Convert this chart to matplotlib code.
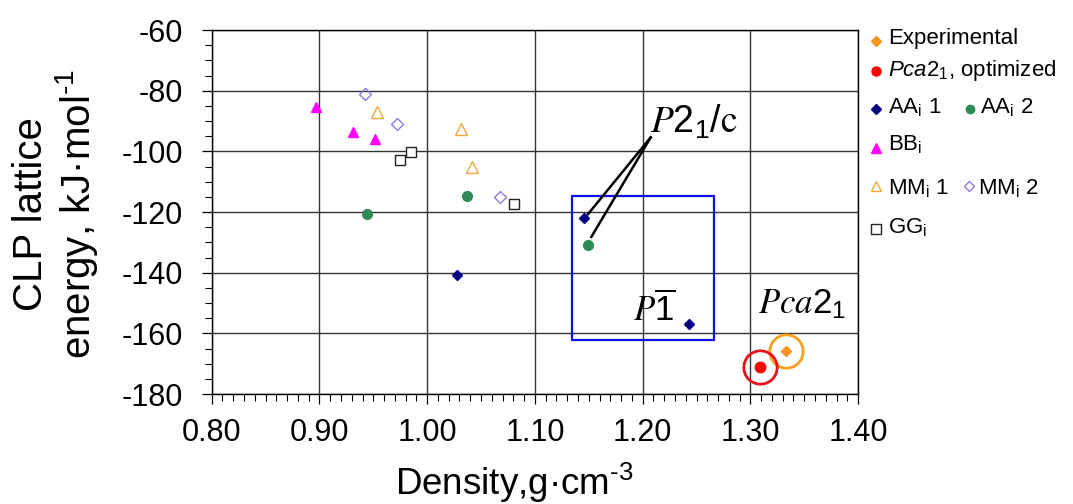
import numpy as np
import matplotlib
matplotlib.use("Agg")
import matplotlib.pyplot as plt
from matplotlib.lines import Line2D
from matplotlib.patches import Rectangle

plt.rcParams['font.family'] = ['Liberation Sans', 'DejaVu Sans']
plt.rcParams['mathtext.fontset'] = 'custom'
plt.rcParams['mathtext.rm'] = 'Liberation Sans'
plt.rcParams['mathtext.it'] = 'Liberation Sans:italic'
plt.rcParams['mathtext.default'] = 'regular'

# ---------------- data ----------------
exp_x = [1.333]
exp_y = [-165.9]
pca_x = [1.309]
pca_y = [-171.0]
aa1_x = [1.028, 1.146, 1.243]
aa1_y = [-140.9, -122.1, -156.9]
aa2_x = [0.944, 1.037, 1.149]
aa2_y = [-120.8, -114.7, -130.9]
bb_x = [0.897, 0.931, 0.952]
bb_y = [-85.5, -93.7, -96.0]
mm1_x = [0.953, 1.031, 1.042]
mm1_y = [-87.1, -92.6, -105.1]
mm2_x = [0.942, 0.972, 1.068]
mm2_y = [-81.0, -91.1, -115.1]
gg_x = [0.975, 0.985, 1.081]
gg_y = [-102.9, -100.2, -117.5]

xticks = [0.80, 0.90, 1.00, 1.10, 1.20, 1.30, 1.40]
yticks = [-180, -160, -140, -120, -100, -80, -60]

# annotation geometry (data units)
box_x0, box_x1 = 1.134, 1.266
box_y0, box_y1 = -162.1, -114.6
p21c_pos = (1.207, -94.0)
p21c_line_start = (1.2075, -95.4)
p21c_line_ends = [(1.1493, -120.7), (1.1524, -128.2)]
p1bar_pos = (1.191, -155.9)
pca_label_pos = (1.307, -153.3)

W, H = 1073, 504
fig = plt.figure(figsize=(W / 100, H / 100), dpi=100)
L, R, T, B = 211.7, 858.1, 30.0, 394.0
ax = fig.add_axes([L / W, 1 - B / H, (R - L) / W, (B - T) / H])

ax.set_xlim(0.8, 1.4)
ax.set_ylim(-180, -60)
ax.set_xticks(xticks)
ax.set_xticklabels([f"{v:.2f}" for v in xticks])
ax.set_yticks(yticks)
ax.set_yticklabels([f"{v:d}" for v in yticks])
ax.set_xticks(np.round(np.arange(0.80, 1.4001, 0.01), 2), minor=True)
ax.set_yticks(np.arange(-180, -59, 5), minor=True)
ax.tick_params(axis='both', which='major', length=7.5, width=0.9, labelsize=22,
               direction='out', color='black')
ax.tick_params(axis='both', which='minor', length=5, width=0.8, direction='out')
ax.tick_params(axis='x', which='major', pad=10)
ax.tick_params(axis='y', which='major', pad=13)
ax.grid(True, which='major', color='#333333', lw=1.0)
ax.set_axisbelow(True)
for s in ax.spines.values():
    s.set_color('black')
    s.set_linewidth(1.0)

# ---------------- markers ----------------
ax.plot(aa1_x, aa1_y, ls='none', marker='D', ms=5.5, mfc='#000080', mec='#000080', zorder=3)
ax.plot(aa2_x, aa2_y, ls='none', marker='o', ms=7, mfc='#2E8B57', mec='#2E8B57', zorder=3)
ax.plot(bb_x, bb_y, ls='none', marker='^', ms=7.5, mfc='#FF00FF', mec='#FF00FF', zorder=3)
ax.plot(mm1_x, mm1_y, ls='none', marker='^', ms=8, mfc='none', mec='#EDA93A', mew=1.0, zorder=3)
ax.plot(mm2_x, mm2_y, ls='none', marker='D', ms=6, mfc='none', mec='#7B70E0', mew=0.9, zorder=3)
ax.plot(gg_x, gg_y, ls='none', marker='s', ms=7.5, mfc='white', mec='#222222', mew=1.0, zorder=3)
ax.plot(exp_x, exp_y, ls='none', marker='D', ms=5.5, mfc='#F7941D', mec='#F7941D', zorder=3)
ax.plot(pca_x, pca_y, ls='none', marker='o', ms=7.5, mfc='#FF0000', mec='#FF0000', zorder=3)
# rings around the two Pca2_1 points
ax.plot(exp_x, exp_y, ls='none', marker='o', ms=24, mfc='none', mec='#F5A01A', mew=2.0, zorder=3)
ax.plot(pca_x, pca_y, ls='none', marker='o', ms=24, mfc='none', mec='#E8101A', mew=2.0, zorder=3)

# blue box
ax.add_patch(Rectangle((box_x0, box_y0), box_x1 - box_x0, box_y1 - box_y0,
                       fill=False, ec='#1010E0', lw=1.6, zorder=2))
# lines to P2_1/c
for ex, ey in p21c_line_ends:
    ax.plot([p21c_line_start[0], ex], [p21c_line_start[1], ey], color='black', lw=1.8, zorder=2)

ax.text(*p21c_pos, r'$\mathit{P}2_{1}/\mathrm{c}$', fontsize=27, math_fontfamily='stix',
        ha='left', va='baseline', zorder=4)
ax.text(*p1bar_pos, r'$\mathit{P}\overline{1}$', fontsize=25, math_fontfamily='stix',
        ha='left', va='baseline', zorder=4)
ax.text(*pca_label_pos, r'$\mathit{Pca}2_{1}$', fontsize=25, math_fontfamily='stix',
        ha='left', va='baseline', zorder=4)

# ---------------- axis labels ----------------
fig.text(514 / W, 1 - 495 / H, r'Density,g·cm$^{\text{-}3}$', fontsize=26.5, ha='center', va='baseline')
fig.text(56 / W, 1 - 214 / H, 'CLP lattice\nenergy, kJ·mol$^{\\text{-}1}$', fontsize=29,
         rotation=90, ha='center', va='center', multialignment='center', linespacing=1.1)

# ---------------- legend (manual) ----------------
def fxy(px, py):
    return px / W, 1 - py / H

leg_fs = 16
rows = [
    (876, 40.7, 888, 44.0, 'Experimental', dict(marker='D', ms=5, mfc='#F7941D', mec='#F7941D')),
    (876, 70.7, 888, 75.7, r'$\mathit{Pca}$2$_{1}$, optimized', dict(marker='o', ms=6.5, mfc='#FF0000', mec='#FF0000')),
    (876, 109.0, 888, 113.0, r'AA$_{i}$ 1', dict(marker='D', ms=5, mfc='#000080', mec='#000080')),
    (970, 109.0, 980, 113.0, r'AA$_{i}$ 2', dict(marker='o', ms=6, mfc='#2E8B57', mec='#2E8B57')),
    (876, 148.0, 888, 150.7, r'BB$_{i}$', dict(marker='^', ms=6.5, mfc='#FF00FF', mec='#FF00FF')),
    (876, 186.0, 888, 194.0, r'MM$_{i}$ 1', dict(marker='^', ms=7, mfc='none', mec='#EDA93A', mew=1.0)),
    (969, 186.0, 978, 194.0, r'MM$_{i}$ 2', dict(marker='D', ms=5.5, mfc='none', mec='#7B70E0', mew=0.9)),
    (876, 229.0, 888, 233.0, r'GG$_{i}$', dict(marker='s', ms=6.5, mfc='white', mec='#222222', mew=1.0)),
]
for mx, my, tx, ty, label, style in rows:
    x0, y0 = fxy(mx, my)
    fig.add_artist(Line2D([x0], [y0], ls='none', transform=fig.transFigure, **style))
    fig.text(*fxy(tx, ty), label, fontsize=leg_fs, ha='left', va='baseline')

fig.savefig('out.png', dpi=100)
